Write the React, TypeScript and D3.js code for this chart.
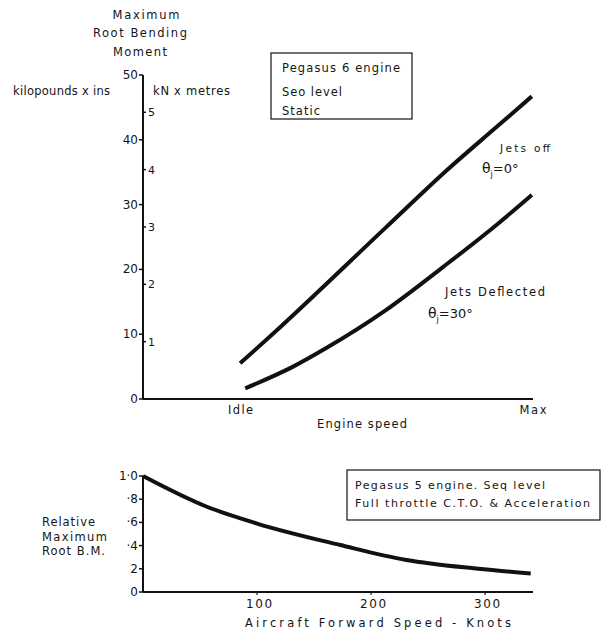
import React from "react";
import * as d3 from "d3";

// ---- Data ----
const engineTicks = [
  { v: 25, label: "Idle" },
  { v: 100, label: "Max" },
];
const kipTicks = [0, 10, 20, 30, 40, 50];
const kNTicks = [1, 2, 3, 4, 5];
const KIP_PER_KNM = 8.85;

const jetsOffX = [24.9, 33.4, 62.5, 77.9, 90.7, 99.7];
const jetsOffY = [5.5, 10.1, 26.6, 35.3, 42.0, 46.7];
const jetsDeflX = [26.2, 38.5, 47.1, 62, 77, 90.7, 99.7];
const jetsDeflY = [1.65, 5.0, 7.9, 13.6, 20.4, 26.9, 31.5];

const speedTicks = [100, 200, 300];
const relTicks = [0, 0.2, 0.4, 0.6, 0.8, 1.0];
const relTickLabels = ["0", "2", "·4", "·6", "·8", "1·0"];
const speedKnots = [0, 56, 100, 173, 231, 290, 340];
const relBM = [1.0, 0.735, 0.59, 0.405, 0.276, 0.204, 0.16];

const FONT = "'DejaVu Sans', sans-serif";

type TProps = {
  x: number;
  y: number;
  w?: number;
  anchor?: "start" | "middle" | "end";
  size?: number;
  children: React.ReactNode;
};
function T({ x, y, w, anchor = "start", size = 11.5, children }: TProps) {
  return (
    <text
      x={x}
      y={y}
      textAnchor={anchor}
      fontFamily={FONT}
      fontSize={size}
      fill="#151515"
      textLength={w}
      lengthAdjust={w ? "spacing" : undefined}
    >
      {children}
    </text>
  );
}

export default function App() {
  const xTop = d3.scaleLinear().domain([0, 100]).range([143, 533]);
  const yTop = d3.scaleLinear().domain([0, 50]).range([399, 75]);
  const xBot = d3.scaleLinear().domain([0, 342]).range([143, 533]);
  const yBot = d3.scaleLinear().domain([0, 1]).range([592, 476]);

  const lineTop = d3
    .line<[number, number]>()
    .x((d) => xTop(d[0]))
    .y((d) => yTop(d[1]))
    .curve(d3.curveMonotoneX);
  const lineBot = d3
    .line<[number, number]>()
    .x((d) => xBot(d[0]))
    .y((d) => yBot(d[1]))
    .curve(d3.curveMonotoneX);

  const offPts: [number, number][] = jetsOffX.map((x, i) => [x, jetsOffY[i]]);
  const deflPts: [number, number][] = jetsDeflX.map((x, i) => [x, jetsDeflY[i]]);
  const botPts: [number, number][] = speedKnots.map((x, i) => [x, relBM[i]]);

  const theta = (x: number, y: number, rest: string) => (
    <text x={x} y={y} fontFamily={FONT} fontSize={14} fill="#151515">
      θ
      <tspan fontSize={8} dy={4}>
        j
      </tspan>
      <tspan dy={-4} fontSize={13}>
        {rest}
      </tspan>
    </text>
  );

  return (
    <svg
      width={603}
      height={631}
      style={{ position: "absolute", left: 0, top: 0, background: "#fff" }}
    >
      {/* ---------- TOP CHART ---------- */}
      <T x={146} y={19} w={67} anchor="middle">Maximum</T>
      <T x={140} y={37} w={94} anchor="middle">Root Bending</T>
      <T x={140} y={56} w={54} anchor="middle">Moment</T>
      <T x={13} y={95} w={97}>kilopounds x ins</T>
      <T x={153} y={95} w={77}>kN x metres</T>

      {/* y axis */}
      <line x1={143} x2={143} y1={yTop(50)} y2={yTop(0)} stroke="#111" strokeWidth={2} />
      {kipTicks.map((t) => (
        <g key={"k" + t}>
          <line x1={139} x2={143} y1={yTop(t)} y2={yTop(t)} stroke="#111" strokeWidth={1.5} />
          <T x={138} y={yTop(t) + 4} anchor="end" size={12}>
            {t}
          </T>
        </g>
      ))}
      {kNTicks.map((t) => (
        <g key={"n" + t}>
          <line
            x1={143}
            x2={146}
            y1={yTop(t * KIP_PER_KNM)}
            y2={yTop(t * KIP_PER_KNM)}
            stroke="#111"
            strokeWidth={1.5}
          />
          <T x={148} y={yTop(t * KIP_PER_KNM) + 4} size={11}>
            {t}
          </T>
        </g>
      ))}

      {/* x axis */}
      <line x1={143} x2={xTop(100)} y1={yTop(0)} y2={yTop(0)} stroke="#111" strokeWidth={2} />
      {engineTicks.map((t) => (
        <T key={t.label} x={xTop(t.v)} y={414} anchor="middle" w={t.label === "Idle" ? 25 : 27}>
          {t.label}
        </T>
      ))}
      <T x={362} y={428} anchor="middle" w={90}>
        Engine speed
      </T>

      {/* curves */}
      <path d={lineTop(offPts) || ""} fill="none" stroke="#111" strokeWidth={4} />
      <path d={lineTop(deflPts) || ""} fill="none" stroke="#111" strokeWidth={4} />

      {/* curve labels */}
      <T x={500} y={152} w={50} size={10.5}>Jets off</T>
      {theta(482, 173, "=0°")}
      <T x={445} y={296} w={100}>Jets Deflected</T>
      {theta(428, 318, "=30°")}

      {/* legend box top */}
      <rect x={271} y={53} width={141} height={66} fill="#fff" stroke="#111" strokeWidth={1.2} />
      <T x={282} y={72} w={118}>Pegasus 6 engine</T>
      <T x={282} y={96} w={60}>Seo level</T>
      <T x={282} y={115} w={38}>Static</T>

      {/* ---------- BOTTOM CHART ---------- */}
      <line x1={143} x2={143} y1={yBot(1)} y2={yBot(0)} stroke="#111" strokeWidth={2} />
      {relTicks.map((t, i) => (
        <g key={"r" + t}>
          <line x1={139} x2={143} y1={yBot(t)} y2={yBot(t)} stroke="#111" strokeWidth={1.5} />
          <T x={138} y={yBot(t) + 4} anchor="end" size={12}>
            {relTickLabels[i]}
          </T>
        </g>
      ))}
      <line x1={143} x2={533} y1={yBot(0)} y2={yBot(0)} stroke="#111" strokeWidth={2} />
      {speedTicks.map((t) => (
        <g key={"s" + t}>
          <line x1={xBot(t)} x2={xBot(t)} y1={yBot(0)} y2={yBot(0) + 3} stroke="#111" strokeWidth={1.2} />
          <T x={xBot(t) + 2} y={608} anchor="middle" size={12} w={26}>
            {t}
          </T>
        </g>
      ))}
      <T x={378} y={627} anchor="middle" w={266}>
        Aircraft Forward Speed - Knots
      </T>
      <T x={42} y={526} w={53}>Relative</T>
      <T x={42} y={541} w={65}>Maximum</T>
      <T x={42} y={555} w={63}>Root B.M.</T>

      <path d={lineBot(botPts) || ""} fill="none" stroke="#111" strokeWidth={4} />

      {/* legend box bottom */}
      <rect x={347} y={470} width={253} height={50} fill="#fff" stroke="#111" strokeWidth={1.2} />
      <T x={355} y={489} w={190} size={11}>Pegasus 5 engine. Seq level</T>
      <T x={355} y={507} w={235} size={11}>Full throttle C.T.O. &amp; Acceleration</T>
    </svg>
  );
}
